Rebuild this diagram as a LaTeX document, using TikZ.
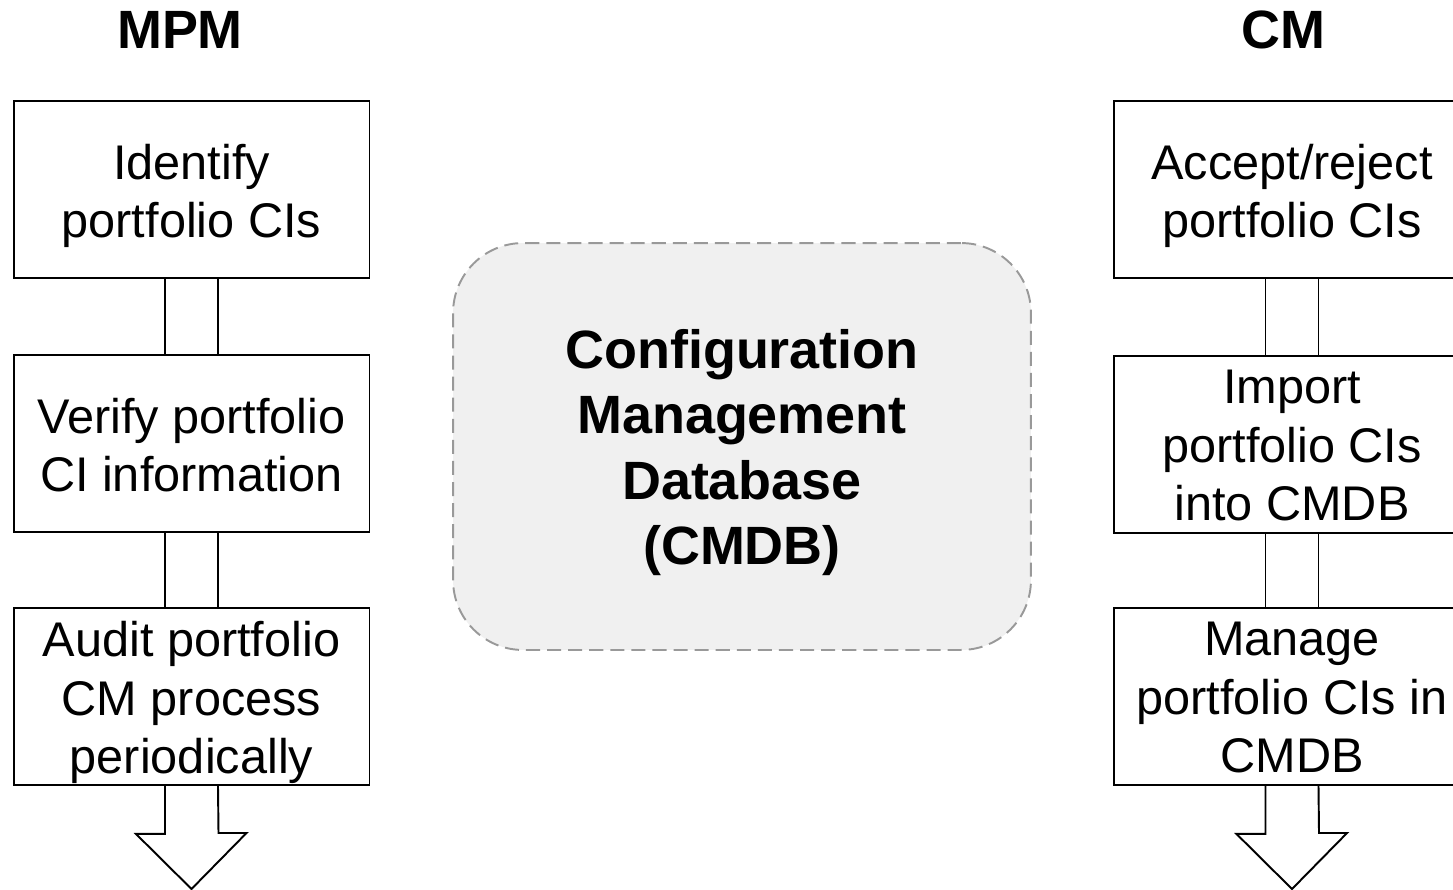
\documentclass[tikz,border=0pt]{standalone}
\usepackage{fontspec}
\setmainfont{Liberation Sans}

\begin{document}
\begin{tikzpicture}[x=0.02cm,y=-0.02cm,line width=1.1pt,
                    step text/.style={align=center,inner sep=0pt,yshift=-0.2cm,
                      font=\fontsize{27.7}{33.3}\selectfont,
                      execute at begin node=\strut,execute at end node=\strut},
                    step box/.style={rectangle,draw,minimum width=7.12cm,minimum height=3.54cm,
                      inner sep=0pt,label={[step text]center:#1}},
                    lane title/.style={font=\fontsize{30.7}{37}\selectfont\bfseries},
                    db text/.style={align=center,inner sep=0pt,yshift=-0.12cm,
                      font=\fontsize{30.7}{37.2}\selectfont\bfseries},
                    db box/.style={rectangle,draw=gray!80,dash pattern=on 8pt off 4pt,fill=gray!12,
                      rounded corners=1.4cm,minimum width=11.56cm,minimum height=8.14cm,
                      label={[db text]center:#1}}]

  \useasboundingbox (0,0) rectangle (1453,889);

  \node[lane title] (mpm) at (180,30) {MPM};
  \node[lane title] (cm) at (1283,30) {CM};

  \node[step box={Identify\\portfolio CIs}] (m1) at (191.5,189.5) {};
  \node[step box={Verify portfolio\\CI information}] (m2) at (191.5,443.5) {};
  \node[step box={Audit portfolio\\CM process\\periodically}] (m3) at (191.5,696.5) {};

  \node[step box={Accept/reject\\portfolio CIs}] (c1) at (1292,189.5) {};
  \node[step box={Import\\portfolio CIs\\into CMDB}] (c2) at (1292,444.5) {};
  \node[step box={Manage\\portfolio CIs in\\CMDB}] (c3) at (1292,696.5) {};

  \node[db box={Configuration\\Management\\Database\\(CMDB)}] (cmdb) at (742,446.5) {};

  \coordinate (mpmend) at (191.5,889);
  \coordinate (cmend) at (1292,889);

  % double-line links
  \foreach \a/\b in {m1/m2,m2/m3,c1/c2,c2/c3} {
    \draw ([xshift=-0.53cm]\a.south) -- ([xshift=-0.53cm]\b.north);
    \draw ([xshift=0.53cm]\a.south) -- ([xshift=0.53cm]\b.north);
  }

  % open block arrows
  \draw[line join=miter] ([xshift=-0.53cm]m3.south) -- ++(0,48) -- ++(-29,0) -- (mpmend)
    -- ++(55,-56) -- ++(-28,0) -- ([xshift=0.53cm]m3.south);
  \draw[line join=miter] ([xshift=-0.53cm]c3.south) -- ++(0,48) -- ++(-29,0) -- (cmend)
    -- ++(55,-56) -- ++(-28,0) -- ([xshift=0.53cm]c3.south);
\end{tikzpicture}
\end{document}
